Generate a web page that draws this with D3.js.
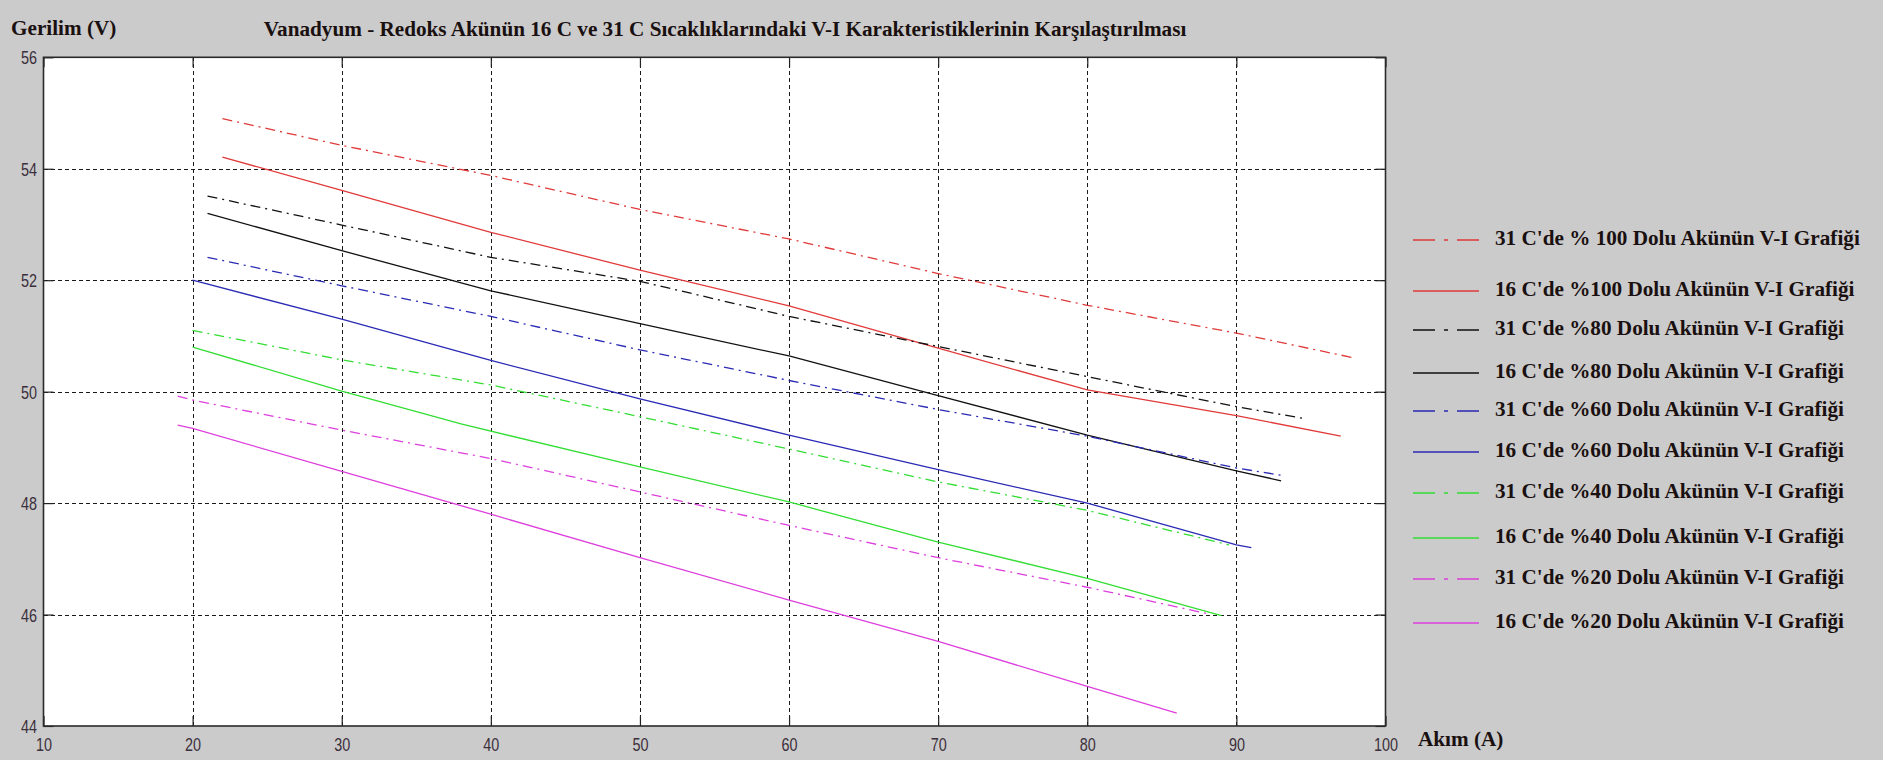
<!DOCTYPE html>
<html>
<head>
<meta charset="utf-8">
<script src="https://cdn.jsdelivr.net/npm/d3@7"></script>
<style>
  html, body { margin: 0; padding: 0; background: #cbcbcb; }
  svg { display: block; }
</style>
</head>
<body>
<svg id="chart" width="1883" height="760"></svg>
<script>
// ---------------- DATA ----------------
const xTicks = [10, 20, 30, 40, 50, 60, 70, 80, 90, 100];
const yTicks = [44, 46, 48, 50, 52, 54, 56];

const titleText = "Vanadyum - Redoks Akünün 16 C ve 31 C Sıcaklıklarındaki V-I Karakteristiklerinin Karşılaştırılması";
const yAxisTitle = "Gerilim (V)";
const xAxisTitle = "Akım (A)";

const legendLabels = [
  "31 C'de % 100 Dolu Akünün V-I Grafiği",
  "16 C'de %100 Dolu Akünün V-I Grafiği",
  "31 C'de %80 Dolu Akünün V-I Grafiği",
  "16 C'de %80 Dolu Akünün V-I Grafiği",
  "31 C'de %60 Dolu Akünün V-I Grafiği",
  "16 C'de %60 Dolu Akünün V-I Grafiği",
  "31 C'de %40 Dolu Akünün V-I Grafiği",
  "16 C'de %40 Dolu Akünün V-I Grafiği",
  "31 C'de %20 Dolu Akünün V-I Grafiği",
  "16 C'de %20 Dolu Akünün V-I Grafiği"
];

const current_31C_100 = [22, 30, 40, 50, 60, 70, 80, 90, 98];
const voltage_31C_100 = [54.9, 54.42, 53.88, 53.27, 52.74, 52.12, 51.55, 51.05, 50.6];

const current_16C_100 = [22, 30, 40, 50, 60, 70, 80, 90, 97];
const voltage_16C_100 = [54.21, 53.61, 52.86, 52.18, 51.54, 50.78, 50.03, 49.57, 49.2];

const current_31C_80 = [21, 30, 40, 50, 60, 70, 80, 90, 94.5];
const voltage_31C_80 = [53.51, 52.99, 52.41, 51.98, 51.35, 50.81, 50.27, 49.73, 49.52];

const current_16C_80 = [21, 30, 40, 50, 60, 70, 80, 90, 93];
const voltage_16C_80 = [53.2, 52.53, 51.81, 51.22, 50.64, 49.93, 49.22, 48.58, 48.4];

const current_31C_60 = [21, 30, 40, 50, 60, 70, 80, 90, 93];
const voltage_31C_60 = [52.41, 51.9, 51.35, 50.75, 50.2, 49.68, 49.2, 48.63, 48.5];

const current_16C_60 = [20, 30, 40, 50, 60, 70, 80, 90, 91];
const voltage_16C_60 = [52.0, 51.3, 50.56, 49.87, 49.22, 48.6, 48.0, 47.25, 47.2];

const current_31C_40 = [20, 30, 40, 50, 60, 70, 80, 89.5];
const voltage_31C_40 = [51.1, 50.57, 50.12, 49.55, 48.97, 48.38, 47.87, 47.25];

const current_16C_40 = [20, 30, 38, 50, 60, 70, 80, 89];
const voltage_16C_40 = [50.8, 50.01, 49.42, 48.65, 48.02, 47.3, 46.65, 45.98];

const current_31C_20 = [19, 20, 30, 40, 50, 60, 70, 80, 88];
const voltage_31C_20 = [49.92, 49.85, 49.31, 48.8, 48.2, 47.6, 47.02, 46.49, 46.02];

const current_16C_20 = [19, 20, 30, 40, 50, 60, 70, 80, 86];
const voltage_16C_20 = [49.4, 49.34, 48.57, 47.8, 47.02, 46.26, 45.52, 44.71, 44.23];

// ---------------- STYLE / LAYOUT ----------------
const seriesCurrents = [current_31C_100, current_16C_100, current_31C_80, current_16C_80,
  current_31C_60, current_16C_60, current_31C_40, current_16C_40, current_31C_20, current_16C_20];
const seriesVoltages = [voltage_31C_100, voltage_16C_100, voltage_31C_80, voltage_16C_80,
  voltage_31C_60, voltage_16C_60, voltage_31C_40, voltage_16C_40, voltage_31C_20, voltage_16C_20];
const seriesColors = ["#e03a3a", "#e03a3a", "#111111", "#111111", "#2a2ab4", "#2a2ab4",
  "#33dd33", "#33dd33", "#dd3fdd", "#dd3fdd"];
const seriesDashed = [true, false, true, false, true, false, true, false, true, false];
const legendRowY = [237, 288, 327, 370, 408, 449, 490, 535, 576, 620];

const W = 1883, H = 760;
const plot = { left: 43.5, right: 1385.5, top: 57.3, bottom: 726 };

const svg = d3.select("#chart");
svg.append("rect").attr("width", W).attr("height", H).attr("fill", "#cbcbcb");

const x = d3.scaleLinear().domain([10, 100]).range([plot.left, plot.right]);
const y = d3.scaleLinear().domain([44, 56]).range([plot.bottom, plot.top]);

// plot background
svg.append("rect")
  .attr("x", plot.left).attr("y", plot.top)
  .attr("width", plot.right - plot.left).attr("height", plot.bottom - plot.top)
  .attr("fill", "#ffffff");

// grid
const grid = svg.append("g").attr("stroke", "#1a1a1a").attr("stroke-width", 1)
  .attr("stroke-dasharray", "4,3").attr("shape-rendering", "crispEdges");
grid.selectAll("line.vx").data(xTicks.slice(1, -1)).enter().append("line")
  .attr("x1", d => Math.round(x(d)) + 0.5).attr("x2", d => Math.round(x(d)) + 0.5)
  .attr("y1", plot.top).attr("y2", plot.bottom);
grid.selectAll("line.hy").data(yTicks.slice(1, -1)).enter().append("line")
  .attr("y1", d => Math.round(y(d)) + 0.5).attr("y2", d => Math.round(y(d)) + 0.5)
  .attr("x1", plot.left).attr("x2", plot.right);

// series lines
const line = d3.line().x(d => x(d[0])).y(d => y(d[1]));
seriesCurrents.forEach((cs, i) => {
  const pts = cs.map((c, j) => [c, seriesVoltages[i][j]]);
  svg.append("path")
    .attr("d", line(pts))
    .attr("fill", "none")
    .attr("stroke", seriesColors[i])
    .attr("stroke-width", 1.3)
    .attr("stroke-dasharray", seriesDashed[i] ? "10,5,2,5" : null);
});

// axes
const tickFont = "'Liberation Sans', Arial, sans-serif";
const xAxis = svg.append("g").attr("transform", `translate(0,${plot.bottom})`)
  .call(d3.axisBottom(x).tickValues(xTicks).tickSizeInner(-10).tickSizeOuter(0).tickPadding(20));
const yAxis = svg.append("g").attr("transform", `translate(${plot.left},0)`)
  .call(d3.axisLeft(y).tickValues(yTicks).tickSizeInner(-10).tickSizeOuter(0).tickPadding(20));
svg.append("g").attr("transform", `translate(0,${plot.top})`)
  .call(d3.axisTop(x).tickValues(xTicks).tickSizeInner(-10).tickSizeOuter(0).tickFormat(""));
svg.append("g").attr("transform", `translate(${plot.right},0)`)
  .call(d3.axisRight(y).tickValues(yTicks).tickSizeInner(-10).tickSizeOuter(0).tickFormat(""));
svg.selectAll(".domain").remove();
svg.selectAll(".tick line").attr("stroke", "#222").attr("stroke-width", 1.2);

xAxis.selectAll("text")
  .attr("font-family", tickFont).attr("font-size", 18).attr("fill", "#3b2f3b")
  .attr("y", 12).attr("dy", "0.71em")
  .attr("transform", "scale(0.8,1)");
yAxis.selectAll("text")
  .attr("font-family", tickFont).attr("font-size", 18).attr("fill", "#3b2f3b")
  .attr("x", -8).attr("dy", "0.36em")
  .attr("transform", "scale(0.8,1)");

// box
svg.append("rect")
  .attr("x", plot.left).attr("y", plot.top)
  .attr("width", plot.right - plot.left).attr("height", plot.bottom - plot.top)
  .attr("fill", "none").attr("stroke", "#2a2a2a").attr("stroke-width", 1.6);

// titles
const serif = "'Liberation Serif', 'Times New Roman', serif";
const labelSize = 21.2;
svg.append("text").attr("x", 11).attr("y", 35)
  .attr("font-family", serif).attr("font-weight", "bold").attr("font-size", labelSize)
  .attr("fill", "#1a1010").text(yAxisTitle);
svg.append("text").attr("x", 725).attr("y", 36).attr("text-anchor", "middle")
  .attr("font-family", serif).attr("font-weight", "bold").attr("font-size", labelSize)
  .attr("fill", "#1a1010").text(titleText);
svg.append("text").attr("x", 1418).attr("y", 746)
  .attr("font-family", serif).attr("font-weight", "bold").attr("font-size", labelSize)
  .attr("fill", "#1a1010").text(xAxisTitle);

// legend
const lg = svg.append("g");
legendLabels.forEach((lab, i) => {
  const yy = legendRowY[i];
  lg.append("line")
    .attr("x1", 1413).attr("x2", 1479).attr("y1", yy + 3).attr("y2", yy + 3)
    .attr("stroke", seriesColors[i]).attr("stroke-width", 1.4)
    .attr("stroke-dasharray", seriesDashed[i] ? "22,9,4,9" : null);
  lg.append("text").attr("x", 1495).attr("y", yy + 8)
    .attr("font-family", serif).attr("font-weight", "bold").attr("font-size", labelSize)
    .attr("fill", "#1a1010").text(lab);
});
</script>
</body>
</html>
